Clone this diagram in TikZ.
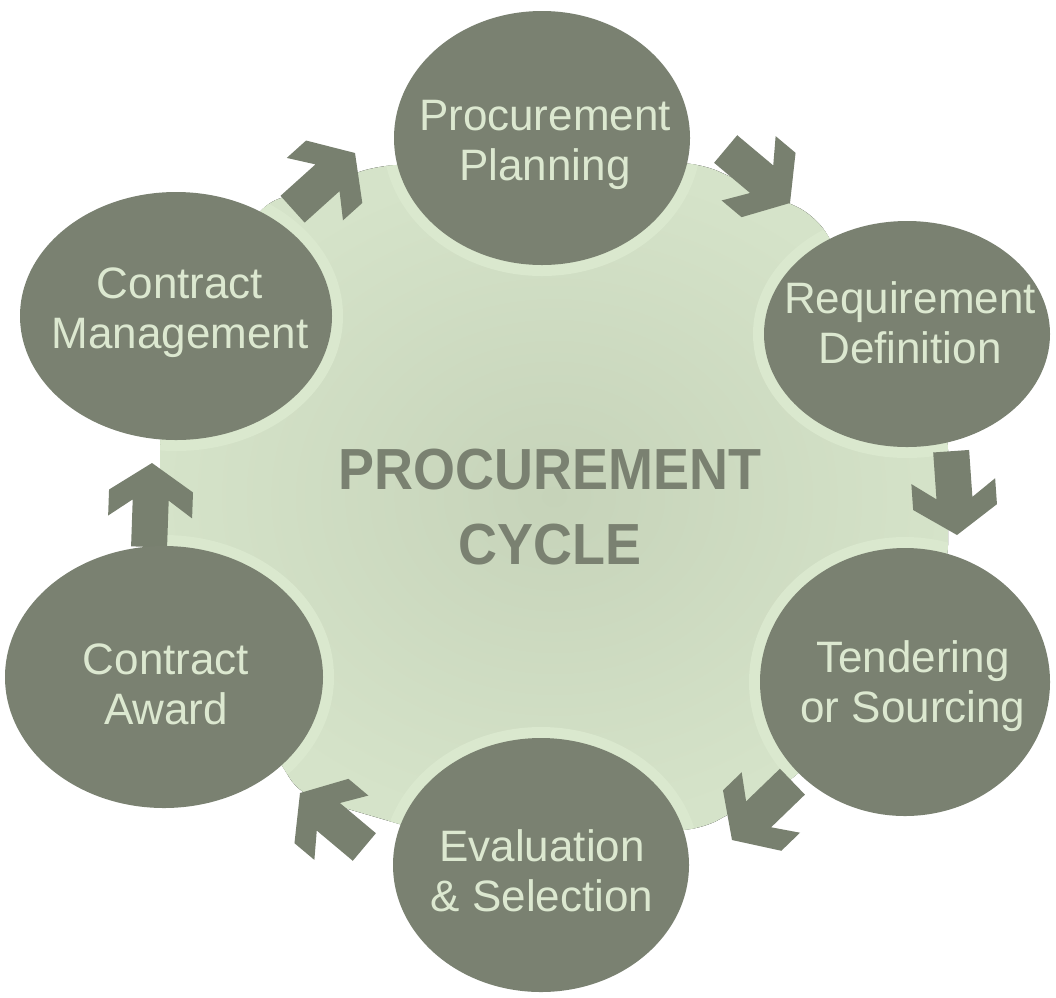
\documentclass[tikz,border=0pt]{standalone}
\usepackage{fontspec}
\setmainfont{Liberation Sans}
\newfontfamily\centerfont[FakeStretch=0.93]{Liberation Sans}
\usetikzlibrary{shapes.geometric}
\definecolor{stagecol}{HTML}{7A8171}
\definecolor{stagetext}{HTML}{DCE8D0}
\definecolor{bginner}{HTML}{C6D3B9}
\definecolor{bgouter}{HTML}{D5E3C9}
\definecolor{ringcol}{HTML}{DAE8CE}
\definecolor{arrowcol}{HTML}{78806F}
\begin{document}
\begin{tikzpicture}[x=1pt,y=-1pt,
  stage/.style={ellipse, fill=stagecol, inner sep=0pt},
  stagelabel/.style={text=stagetext, align=center, inner sep=0pt,
    font=\fontsize{44}{50}\selectfont},
  hub/.style={text=stagecol, align=center, inner sep=0pt,
    font=\centerfont\bfseries\fontsize{58}{75}\selectfont},
  cycarrow/.pic={
    \fill[arrowcol] (0,0) -- (-28,42) -- (-54,42) -- (-37,18) -- (-84,18)
      -- (-84,-18) -- (-37,-18) -- (-54,-42) -- (-28,-42) -- cycle;
  }]
\useasboundingbox (0,0) rectangle (1056,997);
\def\greenshape{(160,430) -- (260,205) -- (380,165) -- (700,163) -- (815,215) -- (948,430) -- (948,565) -- (800,775) -- (700,830) -- (420,830) -- (300,795) -- (160,565) -- cycle}
% background
\fill[inner color=bginner, outer color=bgouter, rounded corners=20] \greenshape;
% light rings around the stages, only on the green
\begin{scope}
  \clip[rounded corners=20] \greenshape;
  \draw[ringcol, line width=22pt] (542,138) ellipse (148 and 127);
  \draw[ringcol, line width=22pt] (907,334) ellipse (143 and 113);
  \draw[ringcol, line width=22pt] (905,682) ellipse (145 and 134);
  \draw[ringcol, line width=22pt] (541,865) ellipse (148 and 127);
  \draw[ringcol, line width=22pt] (164,677) ellipse (159 and 131);
  \draw[ringcol, line width=22pt] (176,316) ellipse (156 and 124);
\end{scope}
% arrows
\pic[rotate=42] at (355,153) {cycarrow};
\pic[rotate=-40] at (790,203) {cycarrow};
\pic[rotate=-86] at (957,535) {cycarrow};
\pic[rotate=-136] at (732,840) {cycarrow};
\pic[rotate=140] at (300,793) {cycarrow};
\pic[rotate=88] at (152,463) {cycarrow};
% stages
\node[stage, minimum width=296pt, minimum height=254pt] (plan) at (542,138) {};
\node[stage, minimum width=286pt, minimum height=226pt] (req) at (907,334) {};
\node[stage, minimum width=290pt, minimum height=268pt] (tend) at (905,682) {};
\node[stage, minimum width=296pt, minimum height=254pt] (eval) at (541,865) {};
\node[stage, minimum width=318pt, minimum height=262pt] (award) at (164,677) {};
\node[stage, minimum width=312pt, minimum height=248pt] (mgmt) at (176,316) {};
\node[stagelabel] (planT) at (545,145) {Procurement\\Planning};
\node[stagelabel] (reqT) at (910,323) {Requirement\\Definition};
\node[stagelabel] (tendT) at (913,686) {Tendering\\or Sourcing};
\node[stagelabel] (evalT) at (542,871) {Evaluation\\\& Selection};
\node[stagelabel] (awardT) at (166,684) {Contract\\Award};
\node[stagelabel] (mgmtT) at (180,313) {Contract\\Management};
\node[hub] (hubT) at (550,507) {PROCUREMENT\\CYCLE};
\end{tikzpicture}
\end{document}
